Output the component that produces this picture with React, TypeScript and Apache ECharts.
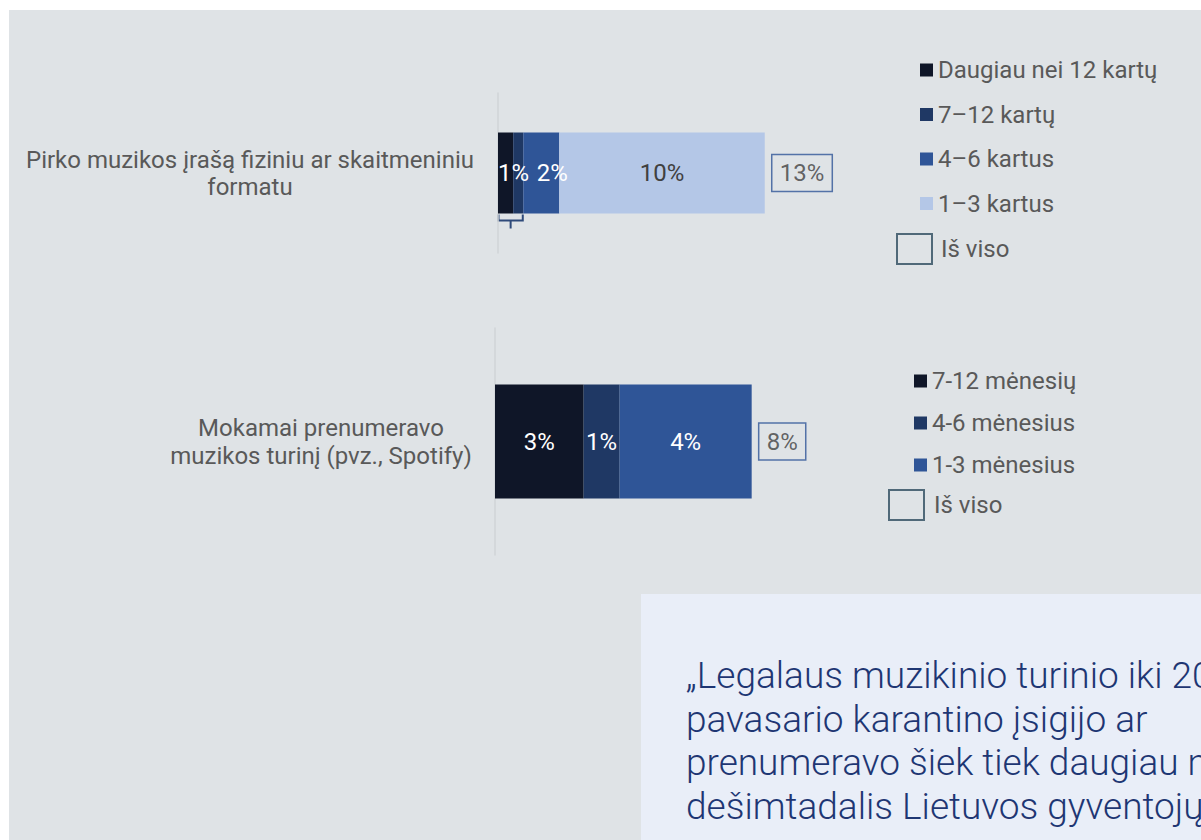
import React, { useEffect, useRef } from "react";
import * as echarts from "echarts";

// ---- Data ----
const cat1 = ["Pirko muzikos įrašą fiziniu ar skaitmeniniu\nformatu"];
const names1 = ["Daugiau nei 12 kartų", "7–12 kartų", "4–6 kartus", "1–3 kartus"];
const values1 = [0.74, 0.49, 1.75, 10.0];

const cat2 = ["Mokamai prenumeravo\nmuzikos turinį (pvz., Spotify)"];
const names2 = ["7-12 mėnesių", "4-6 mėnesius", "1-3 mėnesius"];
const values2 = [2.76, 1.12, 4.11];

const totalName = "Iš viso";
const colors1 = ["#0f1628", "#1f3864", "#2f5597", "#b4c7e7"];
const colors2 = ["#0f1628", "#1f3864", "#2f5597"];

const quoteLines = [
  "„Legalaus muzikinio turinio iki 2020 m.",
  "pavasario karantino įsigijo ar",
  "prenumeravo šiek tiek daugiau nei",
  "dešimtadalis Lietuvos gyventojų",
];

const FONT = "Roboto";
const GRAY = "#595959";
const FS = 24;
const pct = (v: number) => Math.round(v) + "%";

export default function App() {
  const ref = useRef<HTMLDivElement>(null);
  useEffect(() => {
    if (!ref.current) return;
    const chart = echarts.init(ref.current, undefined, { renderer: "svg" });
    const sum1 = values1.reduce((a, b) => a + b, 0);
    const sum2 = values2.reduce((a, b) => a + b, 0);

    const labels1 = [pct(values1[0] + values1[1]), "", pct(values1[2]), pct(values1[3])];
    const labelCfg1: any[] = [
      { show: true, position: "insideLeft", distance: 0, color: "#fff" },
      { show: false },
      { show: true, position: "inside", offset: [11, 0], color: "#fff" },
      { show: true, position: "inside", color: "#404040" },
    ];

    const series: any[] = [];
    names1.forEach((n, i) => {
      series.push({
        name: n,
        type: "bar",
        stack: "a",
        xAxisIndex: 0,
        yAxisIndex: 0,
        barWidth: 81,
        data: [values1[i]],
        itemStyle: { color: colors1[i] },
        label: {
          ...labelCfg1[i],
          fontSize: FS,
          fontFamily: FONT,
          formatter: () => labels1[i],
        },
      });
    });
    names2.forEach((n, i) => {
      series.push({
        name: n,
        type: "bar",
        stack: "b",
        xAxisIndex: 1,
        yAxisIndex: 1,
        barWidth: 114,
        data: [values2[i]],
        itemStyle: { color: colors2[i] },
        label: {
          show: true,
          position: "inside",
          color: "#fff",
          fontSize: FS,
          fontFamily: FONT,
          formatter: () => pct(values2[i]),
        },
      });
    });
    const totalLabel = {
      show: true,
      position: "right",
      distance: 7,
      fontSize: FS,
      fontFamily: FONT,
      color: "#404040",
      borderColor: "#2f5597",
      borderWidth: 1.5,
      padding: [7, 8, 6, 8],
    };
    series.push({
      name: totalName,
      type: "scatter",
      xAxisIndex: 0,
      yAxisIndex: 0,
      symbolSize: 0,
      data: [[sum1, 0]],
      itemStyle: { color: "transparent" },
      label: { ...totalLabel, formatter: () => pct(sum1) },
    });
    series.push({
      name: totalName,
      type: "scatter",
      xAxisIndex: 1,
      yAxisIndex: 1,
      symbolSize: 0,
      data: [[sum2, 0]],
      itemStyle: { color: "transparent" },
      label: { ...totalLabel, formatter: () => pct(sum2) },
    });

    const legendText = { fontSize: FS, fontFamily: FONT, color: GRAY, lineHeight: 24 };
    const totalItem = {
      name: totalName,
      icon: "rect",
      itemStyle: { color: "transparent", borderColor: "#2c4a5e", borderWidth: 2 },
    };

    const yAxisBase = {
      type: "category",
      inverse: true,
      axisTick: { show: false },
      axisLine: { show: true, lineStyle: { color: "#d0d4d7", width: 1.5 } },
    };

    chart.setOption({
      animation: false,
      backgroundColor: "#ffffff",
      grid: [
        { left: 498, top: 93, height: 160, width: 411 },
        { left: 495, top: 328, height: 227, width: 385.5 },
      ],
      xAxis: [
        { type: "value", gridIndex: 0, min: 0, max: 20, show: false },
        { type: "value", gridIndex: 1, min: 0, max: 12, show: false },
      ],
      yAxis: [
        {
          ...yAxisBase,
          gridIndex: 0,
          data: cat1,
          axisLabel: {
            align: "center",
            margin: 248,
            fontSize: FS,
            lineHeight: 27,
            color: GRAY,
            fontFamily: FONT,
          },
        },
        {
          ...yAxisBase,
          gridIndex: 1,
          data: cat2,
          axisLabel: {
            align: "center",
            margin: 174,
            fontSize: FS,
            lineHeight: 28,
            color: GRAY,
            fontFamily: FONT,
          },
        },
      ],
      legend: [
        {
          orient: "vertical",
          left: 920,
          top: 58,
          padding: 0,
          itemWidth: 13,
          itemHeight: 13,
          itemGap: 20.5,
          icon: "rect",
          data: names1,
          textStyle: legendText,
          selectedMode: false,
        },
        {
          orient: "vertical",
          left: 896,
          top: 233,
          padding: 0,
          itemWidth: 35,
          itemHeight: 30,
          data: [totalItem],
          textStyle: { ...legendText, padding: [0, 0, 0, 4] },
          selectedMode: false,
        },
        {
          orient: "vertical",
          left: 914,
          top: 369,
          padding: 0,
          itemWidth: 13,
          itemHeight: 13,
          itemGap: 18,
          icon: "rect",
          data: names2,
          textStyle: legendText,
          selectedMode: false,
        },
        {
          orient: "vertical",
          left: 888,
          top: 489,
          padding: 0,
          itemWidth: 35,
          itemHeight: 30,
          data: [totalItem],
          textStyle: { ...legendText, padding: [0, 0, 0, 5] },
          selectedMode: false,
        },
      ],
      graphic: [
        {
          id: "bg",
          type: "rect",
          z: -10,
          shape: { x: 9, y: 10, width: 1300, height: 900 },
          style: { fill: "#dfe3e6" },
          silent: true,
        },
        {
          id: "quoteBox",
          type: "rect",
          z: -5,
          shape: { x: 641, y: 594, width: 700, height: 400 },
          style: { fill: "#e9eef8" },
          silent: true,
        },
        {
          id: "quote",
          type: "text",
          x: 686,
          y: 654,
          style: {
            text: quoteLines.join("\n"),
            fontSize: 37,
            fontWeight: 300,
            fontFamily: FONT,
            lineHeight: 43.5,
            fill: "#1e3673",
          },
          silent: true,
        },
      ],
      series,
    });

    // bracket under the first two segments of bar 1
    const p0 = chart.convertToPixel({ gridIndex: 0 }, [0, 0]) as number[];
    const p1 = chart.convertToPixel({ gridIndex: 0 }, [values1[0] + values1[1], 0]) as number[];
    const yb = p0[1] + 81 / 2 + 1;
    const mid = (p0[0] + p1[0]) / 2;
    chart.setOption({
      graphic: [
        {
          id: "bracket",
          type: "polyline",
          shape: {
            points: [
              [p0[0] + 0.5, yb],
              [p0[0] + 0.5, yb + 6],
              [p1[0] - 0.5, yb + 6],
              [p1[0] - 0.5, yb],
            ],
          },
          style: { stroke: "#2f4a7a", lineWidth: 2, fill: "none" },
          silent: true,
        },
        {
          id: "bracketStem",
          type: "line",
          shape: { x1: mid, y1: yb + 6, x2: mid, y2: yb + 14 },
          style: { stroke: "#2f4a7a", lineWidth: 2 },
          silent: true,
        },
      ],
    });

    return () => chart.dispose();
  }, []);

  return (
    <div
      ref={ref}
      style={{ position: "fixed", left: 0, top: 0, width: 1201, height: 840, overflow: "hidden" }}
    />
  );
}
